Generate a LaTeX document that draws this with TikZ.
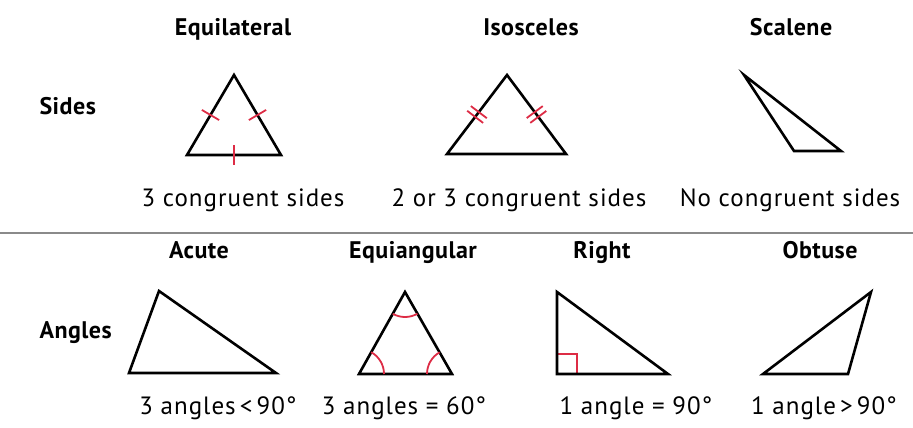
\documentclass[tikz,border=0pt]{standalone}
\usepackage{fontspec}
\setmainfont{PT Sans}
\newfontfamily\capfont[LetterSpace=4]{PT Sans}
\newfontfamily\headfont[LetterSpace=2]{PT Sans Bold}
\usetikzlibrary{calc,angles}
\definecolor{markred}{HTML}{DD2C45}
\definecolor{rulegray}{HTML}{8A8A8A}

\begin{document}
\begin{tikzpicture}[
  x=1pt, y=1pt,
  edge/.style={draw=black, line width=2.6pt, line join=miter},
  tick/.style={draw=markred, line width=1.8pt},
  head/.style={font=\headfont\fontsize{24}{28}\selectfont, anchor=base},
  caption/.style={font=\capfont\fontsize{25}{30}\selectfont, anchor=base}
]
  \useasboundingbox (0,0) rectangle (913,-428);

  % Row labels
  \node[head, anchor=base west] (sides) at (36,-114) {Sides};
  \node[head, anchor=base west] (angles) at (36,-338) {Angles};

  % Headers, first row
  \node[head] (hequi) at (233,-36) {Equilateral};
  \node[head] (hiso) at (531,-36) {Isosceles};
  \node[head] (hsca) at (791,-36) {Scalene};

  % Equilateral
  \coordinate (e1) at (187,-155);
  \coordinate (e2) at (281,-155);
  \coordinate (e3) at (234,-75);
  \draw[edge] (e1) -- (e2) -- (e3) -- cycle;
  \foreach \p/\q in {e1/e2, e2/e3, e3/e1}
    \draw[tick] ($(\p)!0.5!(\q)!10pt!90:(\q)$) -- ($(\p)!0.5!(\q)!10pt!-90:(\q)$);

  % Isosceles
  \coordinate (i1) at (447,-154);
  \coordinate (i2) at (566,-154);
  \coordinate (i3) at (507,-75);
  \draw[edge] (i1) -- (i2) -- (i3) -- cycle;
  \foreach \p/\q in {i1/i3, i3/i2}
    \foreach \s in {-3,3}
      \draw[tick] ($(\p)!0.5!(\q)!\s pt!(\q)!10pt!90:(\q)$) -- ($(\p)!0.5!(\q)!\s pt!(\q)!10pt!-90:(\q)$);

  % Scalene
  \coordinate (s1) at (744,-75);
  \coordinate (s2) at (794,-151);
  \coordinate (s3) at (841,-151);
  \draw[edge] (s1) -- (s2) -- (s3) -- cycle;

  % Captions, first row
  \node[caption] (cequi) at (243,-206) {3 congruent sides};
  \node[caption] (ciso) at (519,-206) {2 or 3 congruent sides};
  \node[caption] (csca) at (790,-206) {No congruent sides};

  % Separator
  \draw[rulegray, line width=2.5pt] (0,-233) -- (913,-233);

  % Headers, second row
  \node[head] (hacu) at (199,-258) {Acute};
  \node[head] (hang) at (413,-258) {Equiangular};
  \node[head] (hrig) at (602,-258) {Right};
  \node[head] (hobt) at (820,-258) {Obtuse};

  % Acute
  \coordinate (a1) at (159,-291);
  \coordinate (a2) at (129,-373);
  \coordinate (a3) at (276,-373);
  \draw[edge] (a1) -- (a2) -- (a3) -- cycle;

  % Equiangular
  \coordinate (q1) at (405,-292);
  \coordinate (q2) at (359,-374);
  \coordinate (q3) at (452,-374);
  \draw[edge] (q1) -- (q2) -- (q3) -- cycle;
  \pic[draw=markred, line width=1.8pt, angle radius=25pt] {angle = q3--q2--q1};
  \pic[draw=markred, line width=1.8pt, angle radius=25pt] {angle = q1--q3--q2};
  \pic[draw=markred, line width=1.8pt, angle radius=25pt] {angle = q2--q1--q3};

  % Right
  \coordinate (r1) at (557,-292);
  \coordinate (r2) at (557,-374);
  \coordinate (r3) at (668,-374);
  \draw[tick] ($(r2)+(0,20)$) -| ($(r2)+(20,0)$);
  \draw[edge] (r1) -- (r2) -- (r3) -- cycle;

  % Obtuse
  \coordinate (o1) at (871,-292);
  \coordinate (o2) at (763,-374);
  \coordinate (o3) at (848,-374);
  \draw[edge] (o1) -- (o2) -- (o3) -- cycle;

  % Captions, second row
  \node[caption] (cacu) at (218,-414) {3 angles\,<\,90°};
  \node[caption] (cang) at (404,-414) {3 angles = 60°};
  \node[caption] (crig) at (636,-414) {1 angle = 90°};
  \node[caption] (cobt) at (824,-414) {1 angle\,>\,90°};
\end{tikzpicture}
\end{document}
